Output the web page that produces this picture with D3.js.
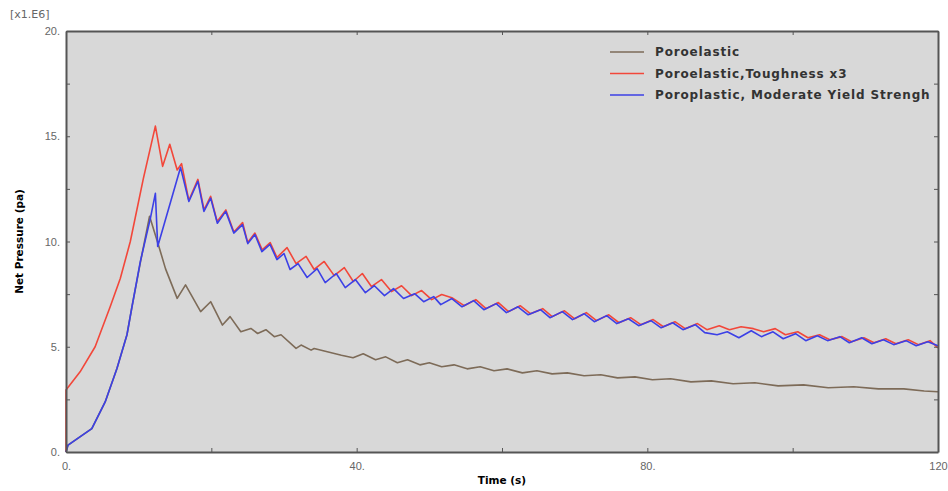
<!DOCTYPE html>
<html>
<head>
<meta charset="utf-8">
<script src="https://cdn.jsdelivr.net/npm/d3@7"></script>
<style>
  body { margin: 0; background: #fff; }
  svg { display: block; font-family: "DejaVu Sans", Verdana, sans-serif; }
</style>
</head>
<body>
<div id="chart"></div>
<script>
// series: [time (s), net pressure (x1e6 pa)]
const poroelastic = [
  [0, 0], [0.28, 0.33], [3.55, 1.11], [5.39, 2.38], [7.01, 3.97], [8.39, 5.57], [9.08, 6.9],
  [10.23, 9.0], [11.5, 11.2], [12.7, 9.86], [13.7, 8.7], [15.3, 7.3], [16.45, 7.94],
  [18.53, 6.67], [19.91, 7.14], [21.53, 6.03], [22.58, 6.43], [24.06, 5.71], [25.44, 5.87],
  [26.37, 5.63], [27.51, 5.81], [28.66, 5.48], [29.59, 5.57], [31.66, 4.92], [32.35, 5.08],
  [33.73, 4.84], [34.15, 4.92], [37.9, 4.6], [39.5, 4.48], [40.9, 4.67], [42.6, 4.38],
  [44.0, 4.52], [45.6, 4.24], [47.0, 4.38], [48.7, 4.14], [50.0, 4.24], [51.7, 4.05],
  [53.4, 4.14], [55.2, 3.95], [57.0, 4.05], [58.9, 3.86], [60.7, 3.95], [62.8, 3.76],
  [64.8, 3.86], [66.9, 3.71], [69.0, 3.76], [71.3, 3.62], [73.6, 3.67], [75.9, 3.52],
  [78.3, 3.57], [80.7, 3.43], [83.2, 3.48], [86.0, 3.33], [88.8, 3.38], [91.8, 3.24],
  [94.8, 3.29], [98.0, 3.14], [101.5, 3.19], [104.9, 3.05], [108.4, 3.1], [111.8, 3.0],
  [115.3, 3.0], [118.1, 2.9], [120.0, 2.86]
];

const toughness3 = [
  [0, 0], [0, 2.95], [1.94, 3.81], [4.01, 5.0], [6.08, 6.9], [7.47, 8.24], [8.85, 10.0],
  [10.65, 13.0], [12.3, 15.48], [13.3, 13.57], [14.28, 14.62], [15.3, 13.4], [15.9, 13.7],
  [16.9, 11.95], [18.15, 12.95], [19.0, 11.5], [19.9, 12.15], [20.8, 10.95], [22.0, 11.5],
  [23.1, 10.45], [24.3, 10.9], [25.0, 9.95], [26.0, 10.4], [27.0, 9.6], [28.1, 9.95],
  [29.03, 9.24], [30.42, 9.71], [31.66, 8.95], [33.04, 9.29], [34.15, 8.67], [35.53, 9.05],
  [36.91, 8.38], [38.3, 8.76], [39.54, 8.1], [40.78, 8.48], [42.03, 7.86], [43.41, 8.19],
  [44.79, 7.62], [46.18, 7.9], [47.56, 7.43], [48.94, 7.67], [50.32, 7.24], [51.71, 7.48],
  [53.1, 7.33], [54.8, 6.95], [56.4, 7.24], [57.8, 6.81], [59.5, 7.1], [60.9, 6.67],
  [62.5, 6.95], [63.9, 6.57], [65.6, 6.81], [66.9, 6.43], [68.6, 6.71], [70.0, 6.33],
  [71.6, 6.62], [73.0, 6.24], [74.7, 6.52], [76.1, 6.14], [77.7, 6.38], [79.1, 6.05],
  [80.8, 6.29], [82.2, 5.95], [83.8, 6.19], [85.2, 5.86], [86.9, 6.1], [88.2, 5.81],
  [89.9, 6.0], [91.3, 5.81], [92.9, 5.95], [94.6, 5.86], [96.0, 5.71], [97.6, 5.86],
  [99.0, 5.57], [100.7, 5.71], [102.1, 5.43], [103.7, 5.57], [105.1, 5.33], [106.8, 5.48],
  [108.1, 5.24], [109.8, 5.43], [111.2, 5.19], [112.8, 5.38], [114.2, 5.14], [115.9, 5.33],
  [117.3, 5.1], [118.9, 5.29], [120.0, 4.95]
];

const poroplastic = [
  [0, 0], [0.28, 0.33], [3.55, 1.11], [5.39, 2.38], [7.01, 3.97], [8.39, 5.57], [9.08, 6.9],
  [10.23, 9.05], [11.61, 11.1], [12.3, 12.29], [12.62, 9.76], [15.76, 13.52], [16.91, 11.9],
  [18.15, 12.86], [18.98, 11.43], [19.91, 12.06], [20.83, 10.87], [21.98, 11.43],
  [23.09, 10.4], [24.29, 10.8], [25.02, 9.9], [26.0, 10.33], [26.96, 9.52], [28.07, 9.86],
  [29.03, 9.14], [30.0, 9.43], [30.83, 8.67], [31.94, 8.95], [33.18, 8.29], [34.56, 8.71],
  [35.67, 8.05], [37.19, 8.48], [38.43, 7.81], [39.82, 8.19], [41.2, 7.57], [42.44, 7.9],
  [43.83, 7.43], [45.07, 7.76], [46.45, 7.29], [47.98, 7.52], [49.22, 7.14], [50.6, 7.38],
  [51.57, 7.0], [53.1, 7.29], [54.5, 6.9], [56.1, 7.19], [57.5, 6.76], [59.2, 7.05],
  [60.6, 6.62], [62.2, 6.9], [63.6, 6.52], [65.3, 6.76], [66.6, 6.38], [68.3, 6.67],
  [69.7, 6.29], [71.3, 6.57], [72.7, 6.19], [74.4, 6.48], [75.8, 6.1], [77.4, 6.33],
  [78.8, 6.0], [80.5, 6.24], [81.9, 5.9], [83.5, 6.14], [84.9, 5.81], [86.6, 6.05],
  [87.9, 5.67], [89.6, 5.57], [91.0, 5.71], [92.6, 5.43], [94.3, 5.76], [95.7, 5.48],
  [97.3, 5.71], [98.7, 5.38], [100.4, 5.62], [101.8, 5.29], [103.4, 5.52], [104.8, 5.29],
  [106.5, 5.48], [107.8, 5.19], [109.5, 5.43], [110.9, 5.14], [112.5, 5.33], [113.9, 5.1],
  [115.6, 5.29], [117.0, 5.05], [118.6, 5.24], [120.0, 5.05]
];

const seriesNames = ["Poroelastic", "Poroelastic,Toughness x3", "Poroplastic, Moderate Yield Strengh"];
const seriesColors = ["#7d6b58", "#f2473a", "#3c40e6"];
const seriesData = [poroelastic, toughness3, poroplastic];

const xTickValues = [0, 20, 40, 60, 80, 100, 120];
const xTickLabels = { 0: "0.", 40: "40.", 80: "80.", 120: "120" };
const yTickValues = [0, 2.5, 5, 7.5, 10, 12.5, 15, 17.5, 20];
const yTickLabels = { 0: "0.", 5: "5.", 10: "10.", 15: "15.", 20: "20." };

const width = 948, height = 491;
const margin = { top: 31, right: 10, bottom: 39, left: 66 };

const svg = d3.select("#chart").append("svg")
  .attr("width", width)
  .attr("height", height);

const x = d3.scaleLinear().domain([0, 120]).range([margin.left, width - margin.right]);
const y = d3.scaleLinear().domain([0, 20]).range([height - margin.bottom, margin.top]);

// plot background
svg.append("rect")
  .attr("x", x(0)).attr("y", y(20))
  .attr("width", x(120) - x(0)).attr("height", y(0) - y(20))
  .attr("fill", "#d8d8d8");

const line = d3.line()
  .x(d => x(d[0]))
  .y(d => y(d[1]));

svg.append("g")
  .selectAll("path")
  .data(seriesData)
  .join("path")
  .attr("fill", "none")
  .attr("stroke", (d, i) => seriesColors[i])
  .attr("stroke-width", 1.6)
  .attr("stroke-linejoin", "round")
  .attr("d", line);

// axes, ticks inward
function styleAxis(g) {
  g.select(".domain").attr("stroke", "#555").attr("stroke-width", 2);
  g.selectAll(".tick line").attr("stroke", "#555");
  g.selectAll(".tick text").attr("fill", "#666").style("font-size", "11px");
}

svg.append("g")
  .attr("transform", `translate(0,${y(0)})`)
  .call(d3.axisBottom(x).tickValues(xTickValues).tickSizeInner(-4).tickSizeOuter(0)
    .tickPadding(10).tickFormat(d => xTickLabels[d] || ""))
  .call(styleAxis);

svg.append("g")
  .attr("transform", `translate(0,${y(20)})`)
  .call(d3.axisTop(x).tickValues(xTickValues).tickSizeInner(-4).tickSizeOuter(0).tickFormat(""))
  .call(styleAxis);

svg.append("g")
  .attr("transform", `translate(${x(0)},0)`)
  .call(d3.axisLeft(y).tickValues(yTickValues).tickSizeInner(-4).tickSizeOuter(0)
    .tickPadding(6).tickFormat(d => yTickLabels[d] || ""))
  .call(styleAxis);

svg.append("g")
  .attr("transform", `translate(${x(120)},0)`)
  .call(d3.axisRight(y).tickValues(yTickValues).tickSizeInner(-4).tickSizeOuter(0).tickFormat(""))
  .call(styleAxis);

// scale factor note
svg.append("text")
  .attr("x", 10).attr("y", 18)
  .attr("fill", "#666")
  .style("font-size", "11px")
  .text("[x1.E6]");

// axis titles
svg.append("text")
  .attr("x", (x(0) + x(120)) / 2).attr("y", 484)
  .attr("text-anchor", "middle")
  .style("font-size", "10.5px").style("font-weight", "bold")
  .text("Time (s)");

svg.append("text")
  .attr("transform", `translate(23,${(y(0) + y(20)) / 2}) rotate(-90)`)
  .attr("text-anchor", "middle")
  .style("font-size", "10.5px").style("font-weight", "bold")
  .text("Net Pressure (pa)");

// legend
const legend = svg.append("g")
  .selectAll("g")
  .data(seriesNames)
  .join("g")
  .attr("transform", (d, i) => `translate(610,${52 + i * 21.5})`);

legend.append("line")
  .attr("x1", 0).attr("x2", 34)
  .attr("stroke", (d, i) => seriesColors[i])
  .attr("stroke-width", 1.6);

legend.append("text")
  .attr("x", 45).attr("dy", "0.35em")
  .attr("fill", "#333")
  .style("font-size", "12px").style("font-weight", "bold")
  .style("letter-spacing", "0.85px")
  .text(d => d);
</script>
</body>
</html>
